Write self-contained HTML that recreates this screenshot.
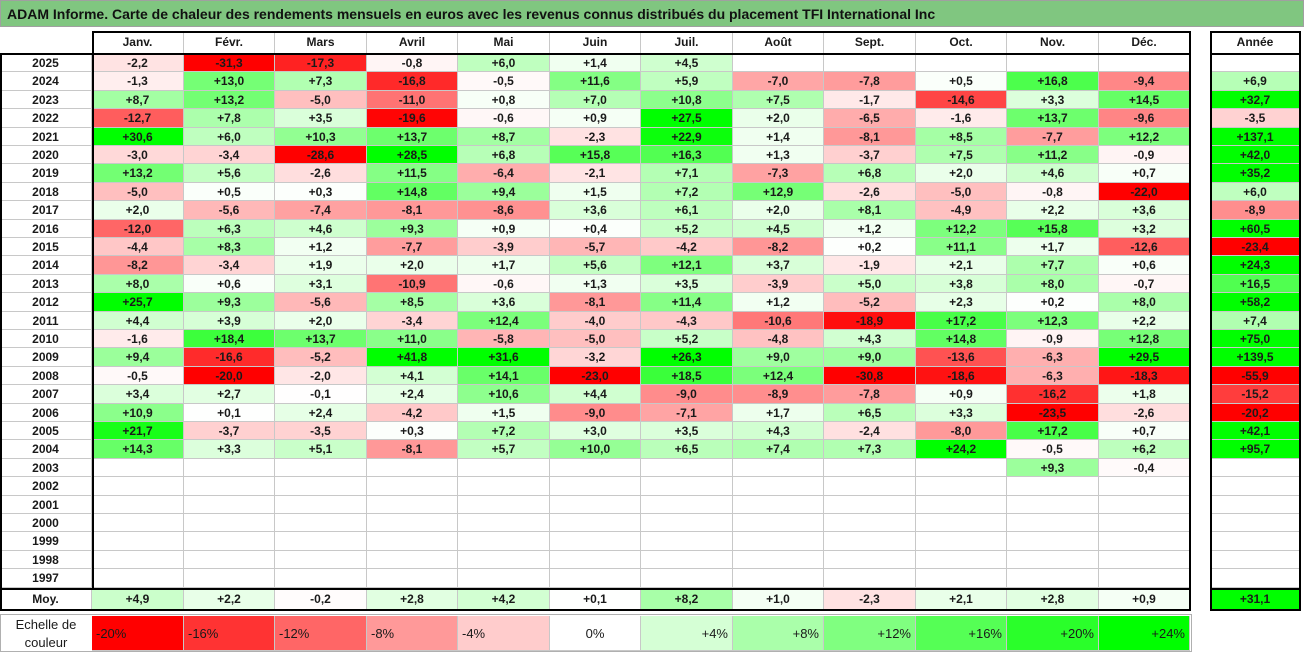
<!DOCTYPE html>
<html><head><meta charset="utf-8"><style>
body{margin:0;width:1304px;height:652px;background:#fff;position:relative;overflow:hidden;font-family:"Liberation Sans",Arial,sans-serif}
.a{position:absolute;box-sizing:border-box}
.c{position:absolute;box-sizing:border-box;font-weight:bold;font-size:12px;color:#1a1a1a;display:flex;align-items:center;justify-content:center;border-right:1px solid #c8c8c8;border-bottom:1px solid #c8c8c8}
</style></head><body>
<div class="a" style="left:0;top:0;width:1304px;height:27px;background:#80c680;border:1px solid #a0a0a0;font-weight:bold;font-size:14px;padding:5px 0 0 6px;color:#111">ADAM Informe. Carte de chaleur des rendements mensuels en euros avec les revenus connus distribués du placement TFI International Inc</div>
<div id="grid"></div>
<script>
const months=["Janv.","Févr.","Mars","Avril","Mai","Juin","Juil.","Août","Sept.","Oct.","Nov.","Déc."];
const years=[2025,2024,2023,2022,2021,2020,2019,2018,2017,2016,2015,2014,2013,2012,2011,2010,2009,2008,2007,2006,2005,2004,2003,2002,2001,2000,1999,1998,1997];
const N=null;
const values=[
[-2.2,-31.3,-17.3,-0.8,6.0,1.4,4.5,N,N,N,N,N],
[-1.3,13.0,7.3,-16.8,-0.5,11.6,5.9,-7.0,-7.8,0.5,16.8,-9.4],
[8.7,13.2,-5.0,-11.0,0.8,7.0,10.8,7.5,-1.7,-14.6,3.3,14.5],
[-12.7,7.8,3.5,-19.6,-0.6,0.9,27.5,2.0,-6.5,-1.6,13.7,-9.6],
[30.6,6.0,10.3,13.7,8.7,-2.3,22.9,1.4,-8.1,8.5,-7.7,12.2],
[-3.0,-3.4,-28.6,28.5,6.8,15.8,16.3,1.3,-3.7,7.5,11.2,-0.9],
[13.2,5.6,-2.6,11.5,-6.4,-2.1,7.1,-7.3,6.8,2.0,4.6,0.7],
[-5.0,0.5,0.3,14.8,9.4,1.5,7.2,12.9,-2.6,-5.0,-0.8,-22.0],
[2.0,-5.6,-7.4,-8.1,-8.6,3.6,6.1,2.0,8.1,-4.9,2.2,3.6],
[-12.0,6.3,4.6,9.3,0.9,0.4,5.2,4.5,1.2,12.2,15.8,3.2],
[-4.4,8.3,1.2,-7.7,-3.9,-5.7,-4.2,-8.2,0.2,11.1,1.7,-12.6],
[-8.2,-3.4,1.9,2.0,1.7,5.6,12.1,3.7,-1.9,2.1,7.7,0.6],
[8.0,0.6,3.1,-10.9,-0.6,1.3,3.5,-3.9,5.0,3.8,8.0,-0.7],
[25.7,9.3,-5.6,8.5,3.6,-8.1,11.4,1.2,-5.2,2.3,0.2,8.0],
[4.4,3.9,2.0,-3.4,12.4,-4.0,-4.3,-10.6,-18.9,17.2,12.3,2.2],
[-1.6,18.4,13.7,11.0,-5.8,-5.0,5.2,-4.8,4.3,14.8,-0.9,12.8],
[9.4,-16.6,-5.2,41.8,31.6,-3.2,26.3,9.0,9.0,-13.6,-6.3,29.5],
[-0.5,-20.0,-2.0,4.1,14.1,-23.0,18.5,12.4,-30.8,-18.6,-6.3,-18.3],
[3.4,2.7,-0.1,2.4,10.6,4.4,-9.0,-8.9,-7.8,0.9,-16.2,1.8],
[10.9,0.1,2.4,-4.2,1.5,-9.0,-7.1,1.7,6.5,3.3,-23.5,-2.6],
[21.7,-3.7,-3.5,0.3,7.2,3.0,3.5,4.3,-2.4,-8.0,17.2,0.7],
[14.3,3.3,5.1,-8.1,5.7,10.0,6.5,7.4,7.3,24.2,-0.5,6.2],
[N,N,N,N,N,N,N,N,N,N,9.3,-0.4],
[N,N,N,N,N,N,N,N,N,N,N,N],[N,N,N,N,N,N,N,N,N,N,N,N],[N,N,N,N,N,N,N,N,N,N,N,N],
[N,N,N,N,N,N,N,N,N,N,N,N],[N,N,N,N,N,N,N,N,N,N,N,N],[N,N,N,N,N,N,N,N,N,N,N,N]];
const annual=[N,6.9,32.7,-3.5,137.1,42.0,35.2,6.0,-8.9,60.5,-23.4,24.3,16.5,58.2,7.4,75.0,139.5,-55.9,-15.2,-20.2,42.1,95.7,N,N,N,N,N,N,N];
const averages=[4.9,2.2,-0.2,2.8,4.2,0.1,8.2,1.0,-2.3,2.1,2.8,0.9];
const averageAnnual=31.1;
const scaleTicks=[-20,-16,-12,-8,-4,0,4,8,12,16,20,24];

const X0=92,CW=91.5,Y0=54,RH=18.4,AX=1210,AW=91;
function colX(i){return Math.round(X0+i*CW);}
function rowY(r){return Math.round(Y0+r*RH);}
function color(v){
  if(v==null)return "#fff";
  if(v<0){const t=Math.min(1,-v/20);const g=Math.round(255*(1-t));return `rgb(255,${g},${g})`;}
  const t=Math.min(1,v/24);const o=Math.round(255*(1-t));return `rgb(${o},255,${o})`;
}
function fmt(v){if(v==null)return "";return (v>=0?"+":"")+v.toFixed(1).replace(".",",");}
const g=document.getElementById('grid');
function cell(x,y,w,h,txt,bg,name,extra){
  const d=document.createElement('div');
  d.className='c';
  d.style.cssText+=`left:${x}px;top:${y}px;width:${w}px;height:${h}px;background:${bg};`+(extra||'');
  d.textContent=txt;
  
  
  g.appendChild(d);return d;
}
months.forEach((m,i)=>{
  cell(colX(i),31,colX(i+1)-colX(i),23,m,'#fff','month-header');
});
cell(AX,31,AW,23,'Année','#fff','year-total-header');
years.forEach((y,r)=>{
  const h=rowY(r+1)-rowY(r);
  cell(0,rowY(r),X0,h,String(y),'#fff','year-label');
  values[r].forEach((v,i)=>{
    cell(colX(i),rowY(r),colX(i+1)-colX(i),h,fmt(v),color(v),'heatmap-cell');
  });
  cell(AX,rowY(r),AW,h,fmt(annual[r]),color(annual[r]),'annual-cell');
});
const MY=rowY(years.length)+1;
cell(0,MY,X0,21,'Moy.','#fff','average-label');
averages.forEach((v,i)=>cell(colX(i),MY,colX(i+1)-colX(i),21,fmt(v),color(v),'average-cell'));
cell(AX,MY,AW,21,fmt(averageAnnual),color(averageAnnual),'average-annual-cell');
function box(x,y,w,h,css,name){const d=document.createElement('div');d.className='a';d.style.cssText=`left:${x}px;top:${y}px;width:${w}px;height:${h}px;`+css;


g.appendChild(d);}
const endX=colX(12);
box(X0,31,endX-X0+1,MY-31,'border:2px solid #000;border-bottom:none;','month-table-border');
box(0,53,endX+1,MY-53+22,'border:2px solid #000;','table-border');
box(0,MY-1,endX+1,2,'background:#000;','average-divider');
box(AX,31,AW,MY-31+22,'border:2px solid #000;','annual-border');
box(AX,53,AW,2,'background:#000;','annual-header-line');
box(AX,MY-1,AW,2,'background:#000;','annual-average-divider');
const LY=616,LH=35;
cell(0,LY,X0,LH,'','#fff','legend-title','border:none;');
const lt=g.lastChild;lt.innerHTML='Echelle de<br>couleur';lt.style.fontWeight='normal';lt.style.fontSize='13px';lt.style.textAlign='center';lt.style.lineHeight='18px';
scaleTicks.forEach((v,i)=>{
  const d=cell(colX(i),LY,colX(i+1)-colX(i),LH,(v>0?'+':'')+v+'%',color(v),'legend-swatch','font-weight:normal;font-size:13px;');
  d.style.justifyContent=v<0?'flex-start':(v>0?'flex-end':'center');
  d.style.padding='0 4px';
});
box(0,LY-2,endX+2,LH+3,'border:1px solid #b0b0b0;','legend-border');
</script>
</body></html>
